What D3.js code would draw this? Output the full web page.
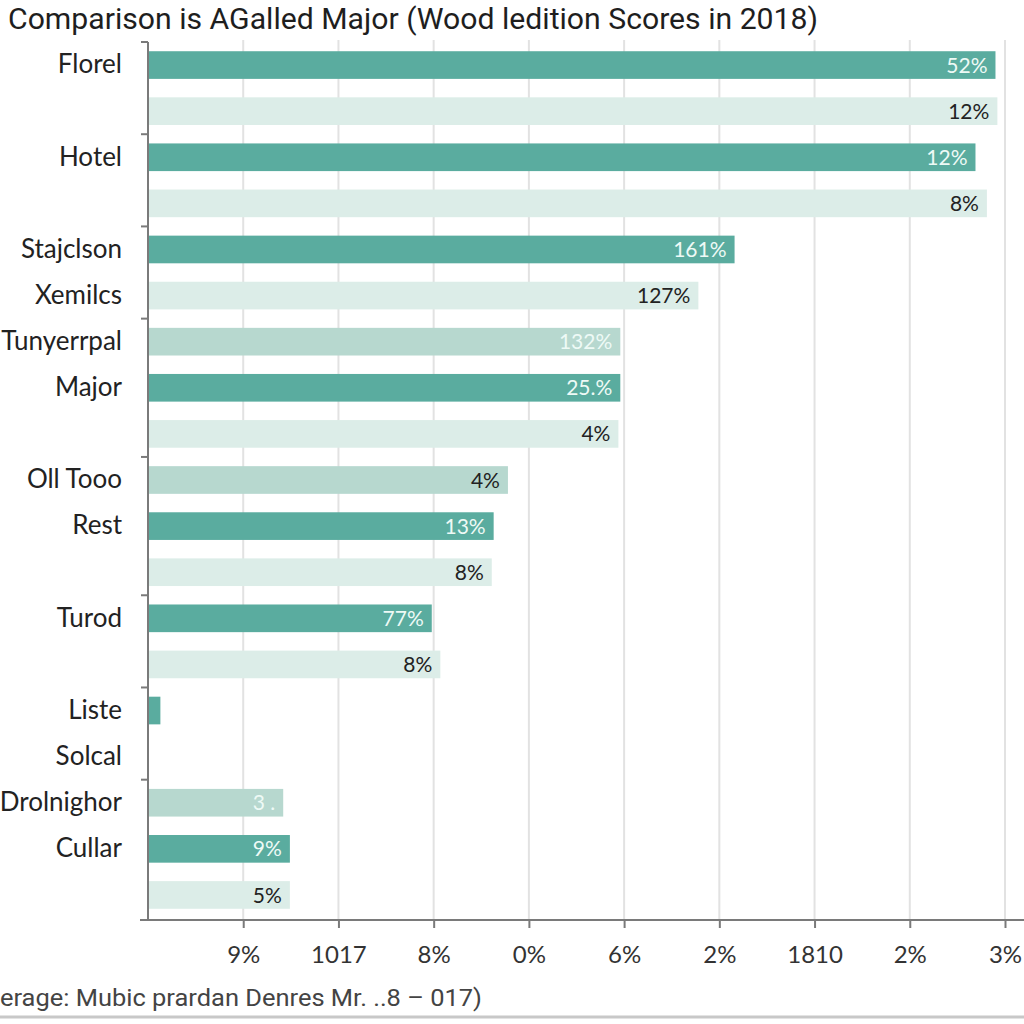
<!DOCTYPE html>
<html><head><meta charset="utf-8">
<script src="https://cdn.jsdelivr.net/npm/d3@7"></script>
<style>body{margin:0;background:#fff}svg{display:block}</style>
</head><body>
<svg id="c" width="1024" height="1024"></svg>
<script>
// ---- data ----
const titleText = "Comparison is AGalled Major (Wood ledition Scores in 2018)";
const footerText = "erage: Mubic prardan Denres Mr. ..8 \u2013 017)";
const categories = ["Florel","","Hotel","","Stajclson","Xemilcs","Tunyerrpal","Major","","Oll Tooo","Rest","","Turod","","Liste","Solcal","Drolnighor","Cullar",""];
const values = [8.90,8.92,8.69,8.81,6.16,5.78,4.96,4.96,4.94,3.78,3.63,3.61,2.98,3.07,0.13,0,1.42,1.49,1.49];
const shades = ["dark","light","dark","light","dark","light","mid","dark","light","mid","dark","light","dark","light","dark","none","mid","dark","light"];
const valueLabels = ["52%","12%","12%","8%","161%","127%","132%","25.%","4%","4%","13%","8%","77%","8%","","","3 .","9%","5%"];
const groupSizes = [2,2,2,3,3,2,2,3];
const tickValues = [1,2,3,4,5,6,7,8,9];
const tickLabels = ["9%","1017","8%","0%","6%","2%","1810","2%","3%"];

// ---- styles ----
const fills = {dark:"#5aac9f", mid:"#b7d8cf", light:"#dcede8", none:"none"};
const font = "Lato, 'Open Sans', sans-serif";

const svg = d3.select("#c");
const x = d3.scaleLinear().domain([0, 9]).range([148, 1005]);
const y = d3.scaleBand().domain(d3.range(categories.length)).range([42, 918])
  .paddingInner(0.4).paddingOuter(0.2);

// title
svg.append("text").attr("x", 8).attr("y", 29)
  .attr("font-family", "'Liberation Sans Narrow', Roboto, sans-serif").attr("font-size", 29)
  .attr("fill", "#1e1e1e").attr("textLength", 810).attr("lengthAdjust", "spacingAndGlyphs")
  .text(titleText);

// gridlines
svg.append("g").selectAll("line").data(tickValues).join("line")
  .attr("x1", d => x(d)).attr("x2", d => x(d)).attr("y1", 40).attr("y2", 920)
  .attr("stroke", "#e2e2e2").attr("stroke-width", 2);

// bars
svg.append("g").selectAll("rect").data(values).join("rect")
  .attr("x", x(0) + 1).attr("y", (d, i) => y(i))
  .attr("width", d => Math.max(0, x(d) - x(0) - 1)).attr("height", y.bandwidth())
  .attr("fill", (d, i) => fills[shades[i]]);

// value labels
svg.append("g").selectAll("text").data(values).join("text")
  .attr("x", d => x(d) - 8).attr("y", (d, i) => y(i) + y.bandwidth() / 2)
  .attr("dy", "0.36em").attr("text-anchor", "end")
  .attr("font-family", font).attr("font-size", 21)
  .attr("fill", (d, i) => shades[i] === "dark" || (shades[i] === "mid" && valueLabels[i].length > 2) ? "#eefaf6" : "#222")
  .text((d, i) => valueLabels[i]);

// y axis with group ticks
const bounds = [0, ...d3.cumsum(groupSizes)];
const boundY = i => i === 0 ? y.range()[0] : i === categories.length ? 920 : y(i) - y.step() * y.paddingInner() / 2;
const yAxisG = svg.append("g");
yAxisG.append("line").attr("x1", x(0)).attr("x2", x(0)).attr("y1", y.range()[0]).attr("y2", 920)
  .attr("stroke", "#7a7a7a").attr("stroke-width", 2);
yAxisG.selectAll("line.gt").data(bounds.slice(0, -1)).join("line").attr("class", "gt")
  .attr("x1", x(0) - 7).attr("x2", x(0)).attr("y1", d => boundY(d)).attr("y2", d => boundY(d))
  .attr("stroke", "#7a7a7a").attr("stroke-width", 2);

// category labels
const catAxis = svg.append("g").attr("transform", `translate(${x(0)},0)`)
  .call(d3.axisLeft(y).tickSize(0).tickPadding(26).tickFormat(i => categories[i]));
catAxis.select(".domain").remove();
catAxis.selectAll("text").attr("font-family", font).attr("font-size", 26).attr("fill", "#222");

// x axis
const xAxis = svg.append("g").attr("transform", "translate(0,920)")
  .call(d3.axisBottom(x).tickValues(tickValues).tickSize(8).tickPadding(18)
    .tickFormat((d, i) => tickLabels[i]));
xAxis.select(".domain").remove();
xAxis.selectAll(".tick line").attr("stroke", "#7a7a7a").attr("stroke-width", 2);
xAxis.selectAll("text").attr("font-family", font).attr("font-size", 24).attr("fill", "#333");
xAxis.append("line").attr("x1", 140).attr("x2", 1024).attr("y1", 0).attr("y2", 0)
  .attr("stroke", "#7a7a7a").attr("stroke-width", 2);

// footer
svg.append("text").attr("x", 0).attr("y", 1006)
  .attr("font-family", "'Liberation Sans Narrow', Roboto, sans-serif").attr("font-size", 23)
  .attr("fill", "#444").attr("textLength", 482).attr("lengthAdjust", "spacingAndGlyphs")
  .text(footerText);
svg.append("line").attr("x1", 0).attr("x2", 1024).attr("y1", 1017).attr("y2", 1017)
  .attr("stroke", "#c8c8c8").attr("stroke-width", 3);
</script>
</body></html>
